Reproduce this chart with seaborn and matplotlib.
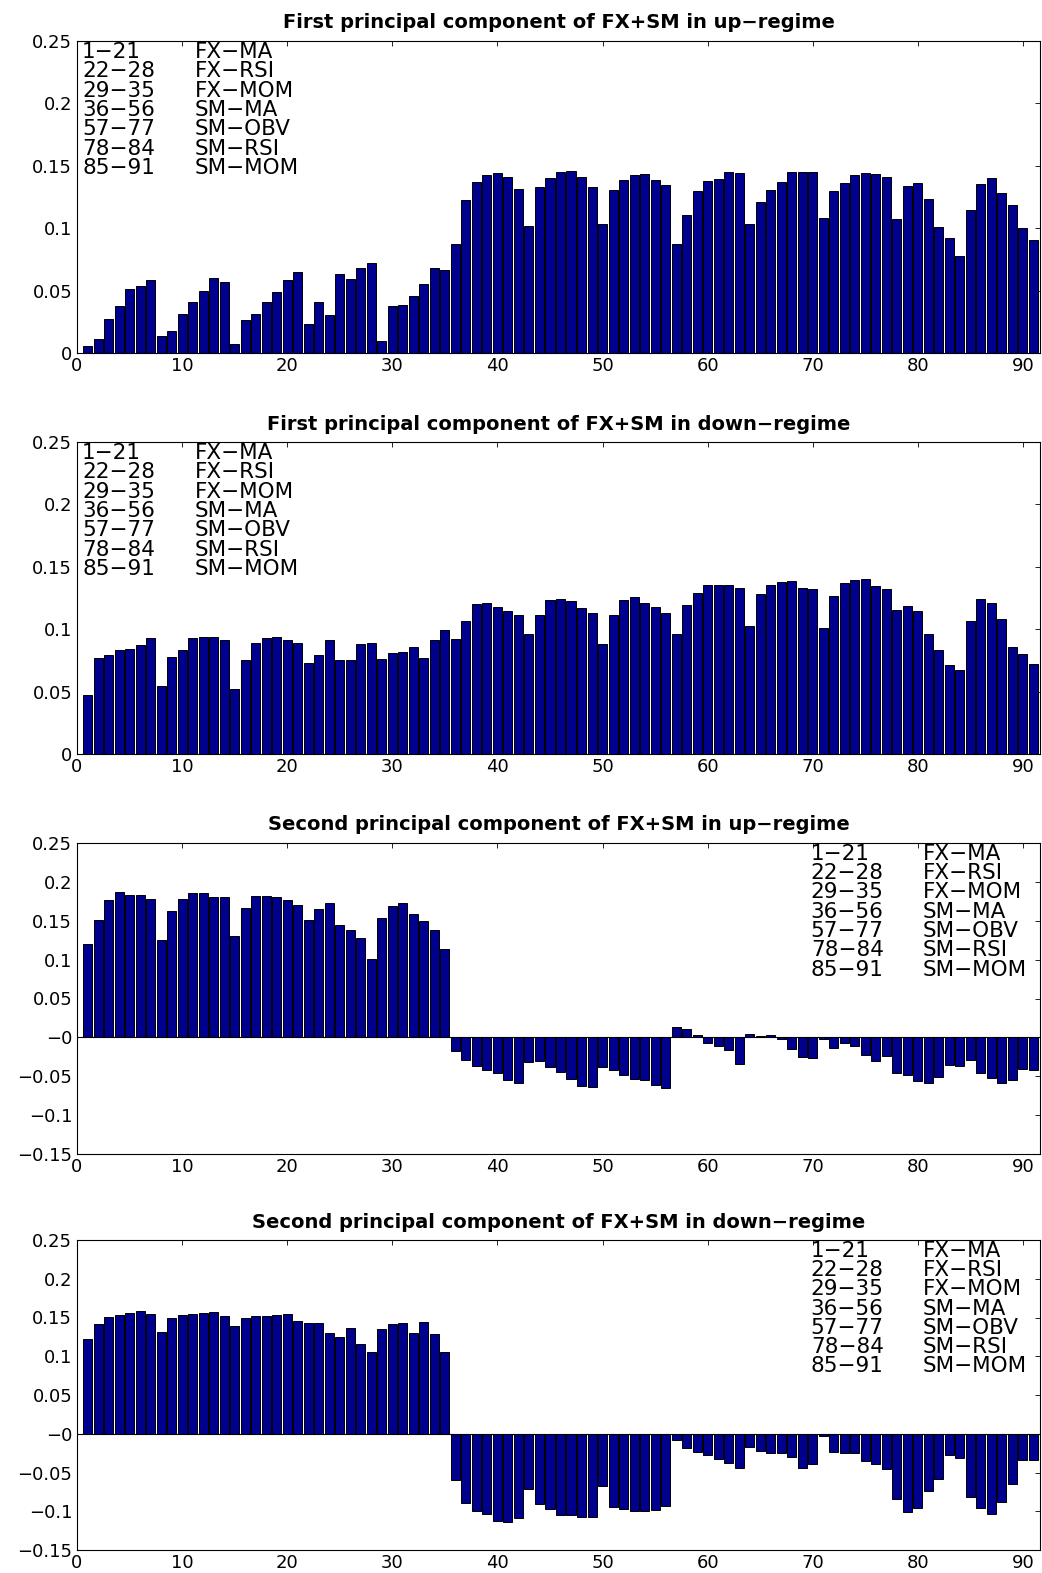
import numpy as np
import pandas as pd
import matplotlib
matplotlib.use("Agg")
import matplotlib.pyplot as plt
import seaborn as sns
from matplotlib.ticker import FixedLocator, FixedFormatter

# ---------------- data ----------------
idx = list(range(1, 92))

pc1_up = [0.0054, 0.0110, 0.0273, 0.0377, 0.0509, 0.0533, 0.0581, 0.0139, 0.0177, 0.0310,
          0.0407, 0.0495, 0.0597, 0.0567, 0.0072, 0.0265, 0.0316, 0.0412, 0.0487, 0.0586,
          0.0648, 0.0233, 0.0412, 0.0305, 0.0632, 0.0594, 0.0683, 0.0720, 0.0094, 0.0377,
          0.0385, 0.0460, 0.0554, 0.0680, 0.0669, 0.0873, 0.1223, 0.1368, 0.1429, 0.1443,
          0.1413, 0.1317, 0.1014, 0.1333, 0.1400, 0.1451, 0.1456, 0.1410, 0.1330, 0.1033,
          0.1304, 0.1387, 0.1429, 0.1435, 0.1387, 0.1346, 0.0870, 0.1105, 0.1301, 0.1378,
          0.1392, 0.1448, 0.1443, 0.1030, 0.1210, 0.1306, 0.1370, 0.1448, 0.1453, 0.1453,
          0.1079, 0.1296, 0.1362, 0.1424, 0.1443, 0.1432, 0.1408, 0.1073, 0.1338, 0.1362,
          0.1234, 0.1012, 0.0918, 0.0776, 0.1143, 0.1354, 0.1403, 0.1285, 0.1183, 0.1001,
          0.0907]

pc1_down = [0.0474, 0.0768, 0.0792, 0.0835, 0.0843, 0.0873, 0.0926, 0.0543, 0.0776, 0.0830,
            0.0931, 0.0937, 0.0934, 0.0915, 0.0522, 0.0755, 0.0891, 0.0929, 0.0937, 0.0910,
            0.0891, 0.0728, 0.0795, 0.0915, 0.0755, 0.0755, 0.0878, 0.0889, 0.0763, 0.0806,
            0.0816, 0.0859, 0.0766, 0.0910, 0.0996, 0.0921, 0.1065, 0.1199, 0.1210, 0.1178,
            0.1148, 0.1116, 0.0958, 0.1111, 0.1237, 0.1245, 0.1226, 0.1170, 0.1132, 0.0883,
            0.1116, 0.1234, 0.1255, 0.1210, 0.1175, 0.1132, 0.0958, 0.1194, 0.1290, 0.1352,
            0.1354, 0.1352, 0.1328, 0.1022, 0.1280, 0.1354, 0.1378, 0.1384, 0.1333, 0.1325,
            0.1009, 0.1266, 0.1373, 0.1397, 0.1400, 0.1346, 0.1322, 0.1154, 0.1183, 0.1143,
            0.0961, 0.0835, 0.0715, 0.0672, 0.1063, 0.1239, 0.1213, 0.1079, 0.0859, 0.0798,
            0.0720]

pc2_up = [0.1203, 0.1516, 0.1773, 0.1876, 0.1837, 0.1833, 0.1786, 0.1250, 0.1627, 0.1782,
          0.1859, 0.1863, 0.1807, 0.1807, 0.1310, 0.1670, 0.1824, 0.1820, 0.1807, 0.1764,
          0.1704, 0.1512, 0.1649, 0.1730, 0.1439, 0.1383, 0.1280, 0.1002, 0.1533, 0.1696,
          0.1734, 0.1589, 0.1495, 0.1375, 0.1139, -0.0171, -0.0287, -0.0364, -0.0415, -0.0463,
          -0.0544, -0.0582, -0.0313, -0.0300, -0.0377, -0.0441, -0.0531, -0.0625, -0.0642, -0.0385,
          -0.0420, -0.0480, -0.0535, -0.0544, -0.0608, -0.0651, 0.0128, 0.0111, 0.0026, -0.0069,
          -0.0107, -0.0163, -0.0338, 0.0039, 0.0017, 0.0034, -0.0021, -0.0150, -0.0257, -0.0266,
          -0.0020, -0.0133, -0.0069, -0.0107, -0.0227, -0.0300, -0.0236, -0.0463, -0.0480, -0.0557,
          -0.0591, -0.0510, -0.0355, -0.0373, -0.0296, -0.0454, -0.0527, -0.0582, -0.0552, -0.0407,
          -0.0415]

pc2_down = [0.1228, 0.1420, 0.1510, 0.1536, 0.1561, 0.1583, 0.1549, 0.1318, 0.1497, 0.1532,
            0.1549, 0.1561, 0.1570, 0.1523, 0.1390, 0.1497, 0.1519, 0.1519, 0.1532, 0.1549,
            0.1455, 0.1425, 0.1433, 0.1305, 0.1253, 0.1369, 0.1159, 0.1061, 0.1356, 0.1420,
            0.1433, 0.1305, 0.1442, 0.1288, 0.1057, -0.0599, -0.0898, -0.0997, -0.1035, -0.1125,
            -0.1138, -0.1082, -0.0714, -0.0911, -0.0971, -0.1048, -0.1044, -0.1074, -0.1074, -0.0680,
            -0.0941, -0.0971, -0.0997, -0.1001, -0.0984, -0.0937, -0.0086, -0.0188, -0.0240, -0.0278,
            -0.0321, -0.0381, -0.0445, -0.0175, -0.0218, -0.0252, -0.0252, -0.0304, -0.0445, -0.0394,
            -0.0034, -0.0240, -0.0252, -0.0252, -0.0355, -0.0385, -0.0449, -0.0838, -0.1014, -0.0954,
            -0.0740, -0.0578, -0.0278, -0.0317, -0.0817, -0.0954, -0.1035, -0.0881, -0.0650, -0.0334,
            -0.0334]

titles = ["First principal component of FX+SM in up\u2212regime",
          "First principal component of FX+SM in down\u2212regime",
          "Second principal component of FX+SM in up\u2212regime",
          "Second principal component of FX+SM in down\u2212regime"]

legend_ranges = ["1\u221221", "22\u221228", "29\u221235", "36\u221256", "57\u221277", "78\u221284", "85\u221291"]
legend_names = ["FX\u2212MA", "FX\u2212RSI", "FX\u2212MOM", "SM\u2212MA", "SM\u2212OBV", "SM\u2212RSI", "SM\u2212MOM"]

xticks = [0, 10, 20, 30, 40, 50, 60, 70, 80, 90]
yticks_pos = [0, 0.05, 0.1, 0.15, 0.2, 0.25]
yticklabels_pos = ["0", "0.05", "0.1", "0.15", "0.2", "0.25"]
yticks_mix = [-0.15, -0.1, -0.05, 0, 0.05, 0.1, 0.15, 0.2, 0.25]
yticklabels_mix = ["\u22120.15", "\u22120.1", "\u22120.05", "\u22120", "0.05", "0.1", "0.15", "0.2", "0.25"]

# ---------------- style ----------------
sns.set_theme(style="white")
plt.rcParams["font.family"] = ["DejaVu Sans"]
plt.rcParams.update({
    "text.color": "black", "axes.titlecolor": "black", "axes.labelcolor": "black",
    "xtick.direction": "in", "ytick.direction": "in",
    "xtick.top": True, "ytick.right": True,
    "xtick.major.size": 3.6, "ytick.major.size": 3.6,
    "xtick.major.width": 0.6, "ytick.major.width": 0.6,
    "xtick.color": "black", "ytick.color": "black",
    "axes.edgecolor": "black", "axes.linewidth": 0.8,
    "xtick.labelsize": 13, "ytick.labelsize": 13,
    "xtick.major.pad": 3.0, "ytick.major.pad": 3.5,
})

bar_color = "#00008F"
fig = plt.figure(figsize=(10.42, 15.73), dpi=100)

W, H = 1042.0, 1573.0
left = 77 / W
width = (1040 - 77) / W
panels = [(41, 353), (442, 754), (843, 1154), (1240, 1550)]
series = [pc1_up, pc1_down, pc2_up, pc2_down]

for k, (top, bot) in enumerate(panels):
    ax = fig.add_axes([left, 1 - bot / H, width, (bot - top) / H])
    df = pd.DataFrame({"idx": idx, "val": series[k]})
    sns.barplot(data=df, x="idx", y="val", native_scale=True, color=bar_color,
                saturation=1, width=0.86, edgecolor="black", linewidth=0.7,
                errorbar=None, ax=ax)
    ax.set_xlim(0, 91.62)
    ax.xaxis.set_major_locator(FixedLocator(xticks))
    ax.xaxis.set_major_formatter(FixedFormatter([str(t) for t in xticks]))
    if k < 2:
        ax.set_ylim(0, 0.25)
        ax.yaxis.set_major_locator(FixedLocator(yticks_pos))
        ax.yaxis.set_major_formatter(FixedFormatter(yticklabels_pos))
        lx1, lx2 = 0.0052, 0.1225
    else:
        ax.set_ylim(-0.15, 0.25)
        ax.yaxis.set_major_locator(FixedLocator(yticks_mix))
        ax.yaxis.set_major_formatter(FixedFormatter(yticklabels_mix))
        ax.axhline(0, color="black", linewidth=0.8, zorder=5)
        lx1, lx2 = 0.762, 0.8785
    ax.set_xlabel("")
    ax.set_ylabel("")
    for s in ax.spines.values():
        s.set_visible(True)
        s.set_color("black")
    ax.set_title(titles[k], fontsize=14, fontweight="bold", pad=9, color="black")
    for r in range(7):
        yy = 0.965 - r * 0.062
        ax.text(lx1, yy, legend_ranges[r], transform=ax.transAxes, fontsize=15.5,
                va="center", ha="left", color="black")
        ax.text(lx2, yy, legend_names[r], transform=ax.transAxes, fontsize=15.5,
                va="center", ha="left", color="black")

fig.savefig("out.png", dpi=100)
